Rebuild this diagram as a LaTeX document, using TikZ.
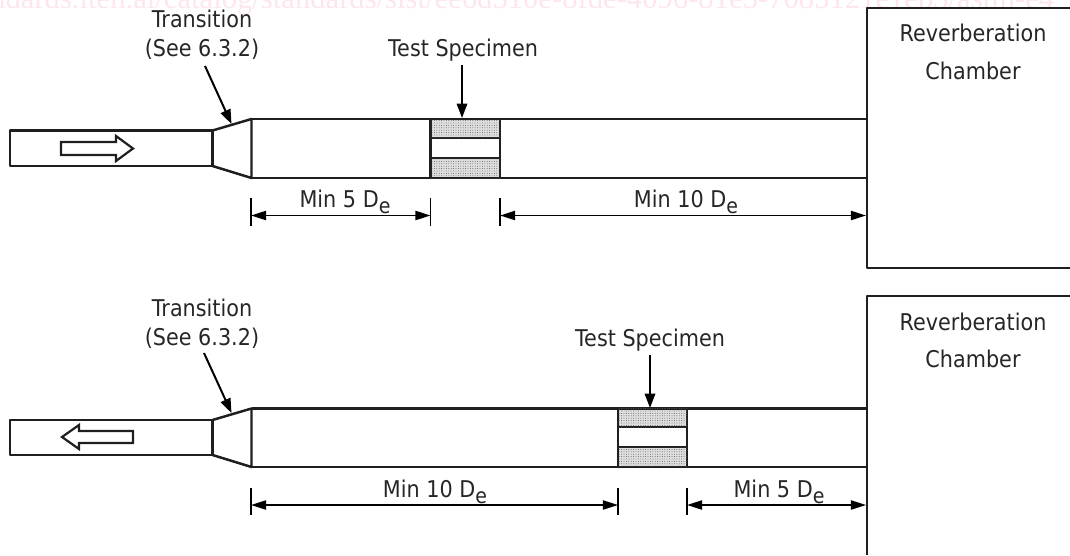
\documentclass[tikz,border=0pt]{standalone}
\usepackage{fontspec}
\setmainfont[FakeStretch=0.9]{DejaVu Sans}
\newfontfamily\markfont{Liberation Serif}
\usetikzlibrary{arrows.meta,patterns.meta}
\definecolor{markpink}{RGB}{253,230,236}
\newcommand{\subE}{D\raisebox{-0.5ex}{\fontsize{15}{15}\selectfont e}}
\tikzset{
	wall/.style={line width=0.62mm, line join=round, color=black!88},
	thinwall/.style={line width=0.55mm, color=black!88},
	lead/.style={line width=0.5mm, -{Triangle[length=3.6mm,width=2.6mm]}},
	span/.style={line width=0.45mm, {Triangle[length=3.8mm,width=2.3mm]}-{Triangle[length=3.8mm,width=2.3mm]}},
	tick/.style={line width=0.45mm},
	label/.style={anchor=base, inner sep=0pt, font=\fontsize{16.4}{18}\selectfont, color=black!85},
	stipple/.style={fill=black!12, postaction={pattern={Dots[distance=0.6mm,radius=0.12mm]}, pattern color=black!65}}
}

\begin{document}
\begin{tikzpicture}[x=0.25mm, y=-0.25mm]
			%%%%% START %%%%%
			\useasboundingbox (0, 0) rectangle (1070, 555);
			
			\node[anchor=base west, inner sep=0pt, text=markpink, font=\markfont\fontsize{21.8}{24}\selectfont] (mark) at (-10, 8) {ndards.iteh.ai/catalog/standards/sist/ee6d510e-8fde-4096-81e5-7085121e1eb3/astm-e4};
			
			% upper duct
			\draw[wall] (10, 130.5) rectangle (212.5, 166);
			\draw[wall] (212.5, 130.5) -- (251.5, 119) -- (251.5, 178) -- (212.5, 166);
			\draw[wall] (251.5, 119) -- (867, 119);
			\draw[wall] (251.5, 178) -- (867, 178);
			\draw[thinwall] (61, 142) -- (116, 142) -- (116, 136) -- (133, 148.5) -- (116, 161) -- (116, 155) -- (61, 155) -- cycle;
			
			\draw[wall, stipple] (430.5, 119) rectangle (500, 138);
			\draw[wall, stipple] (430.5, 158) rectangle (500, 178);
			\draw[wall] (430.5, 138) -- (430.5, 158);
			\draw[wall] (500, 138) -- (500, 158);
			
			\draw[wall] (1070, 8) -- (867, 8) -- (867, 268) -- (1070, 268);
			
			\node[label] (transitionTop) at (202, 27) {Transition};
			\node[label] (seeTop) at (202, 56) {(See 6.3.2)};
			\node[label] (specimenTop) at (463, 56) {Test Specimen};
			\node[label] (reverbTop) at (973, 41) {Reverberation};
			\node[label] (chamberTop) at (973, 79) {Chamber};
			\node[label] (minFiveTop) at (345, 207) {Min 5 \subE};
			\node[label] (minTenTop) at (686, 207) {Min 10 \subE};
			
			\coordinate (transFromTop) at (205, 66);
			\coordinate (transToTop) at (231.5, 124);
			\coordinate (specFromTop) at (462, 65);
			\coordinate (specToTop) at (462, 118);
			\draw[lead] (transFromTop) -- (transToTop);
			\draw[lead] (specFromTop) -- (specToTop);
			
			\coordinate (spanAtop) at (251, 215.5);
			\coordinate (spanBtop) at (430.5, 215.5);
			\coordinate (spanCtop) at (500, 215.5);
			\coordinate (spanDtop) at (866, 215.5);
			\draw[span] (spanAtop) -- (spanBtop);
			\draw[span] (spanCtop) -- (spanDtop);
			\draw[tick] (251, 198) -- (251, 226);
			\draw[tick] (430.5, 198) -- (430.5, 226);
			\draw[tick] (500, 198) -- (500, 226);
			
			% lower duct
			\draw[wall] (10, 420) rectangle (212.5, 455);
			\draw[wall] (212.5, 420) -- (251.5, 408.5) -- (251.5, 467) -- (212.5, 455);
			\draw[wall] (251.5, 408.5) -- (867, 408.5);
			\draw[wall] (251.5, 467) -- (867, 467);
			\draw[thinwall] (133, 431) -- (79, 431) -- (79, 425) -- (62, 437) -- (79, 449) -- (79, 443) -- (133, 443) -- cycle;
			
			\draw[wall, stipple] (618, 408.5) rectangle (687, 427);
			\draw[wall, stipple] (618, 447) rectangle (687, 467);
			\draw[wall] (618, 427) -- (618, 447);
			\draw[wall] (687, 427) -- (687, 447);
			
			\draw[wall] (1070, 296) -- (867, 296) -- (867, 555);
			
			\node[label] (transitionLow) at (202, 316) {Transition};
			\node[label] (seeLow) at (202, 345) {(See 6.3.2)};
			\node[label] (specimenLow) at (650, 346) {Test Specimen};
			\node[label] (reverbLow) at (973, 330) {Reverberation};
			\node[label] (chamberLow) at (973, 367) {Chamber};
			\node[label] (minTenLow) at (435, 497) {Min 10 \subE};
			\node[label] (minFiveLow) at (779, 497) {Min 5 \subE};
			
			\coordinate (transFromLow) at (204, 353);
			\coordinate (transToLow) at (231.5, 413);
			\coordinate (specFromLow) at (650, 355);
			\coordinate (specToLow) at (650, 408);
			\draw[lead] (transFromLow) -- (transToLow);
			\draw[lead] (specFromLow) -- (specToLow);
			
			\coordinate (spanAlow) at (251, 505);
			\coordinate (spanBlow) at (618, 505);
			\coordinate (spanClow) at (687, 505);
			\coordinate (spanDlow) at (866, 505);
			\draw[span] (spanAlow) -- (spanBlow);
			\draw[span] (spanClow) -- (spanDlow);
			\draw[tick] (251, 488) -- (251, 515);
			\draw[tick] (618, 488) -- (618, 515);
			\draw[tick] (687, 488) -- (687, 515);
			
			%%%%% END %%%%%
		\end{tikzpicture}
\end{document}
